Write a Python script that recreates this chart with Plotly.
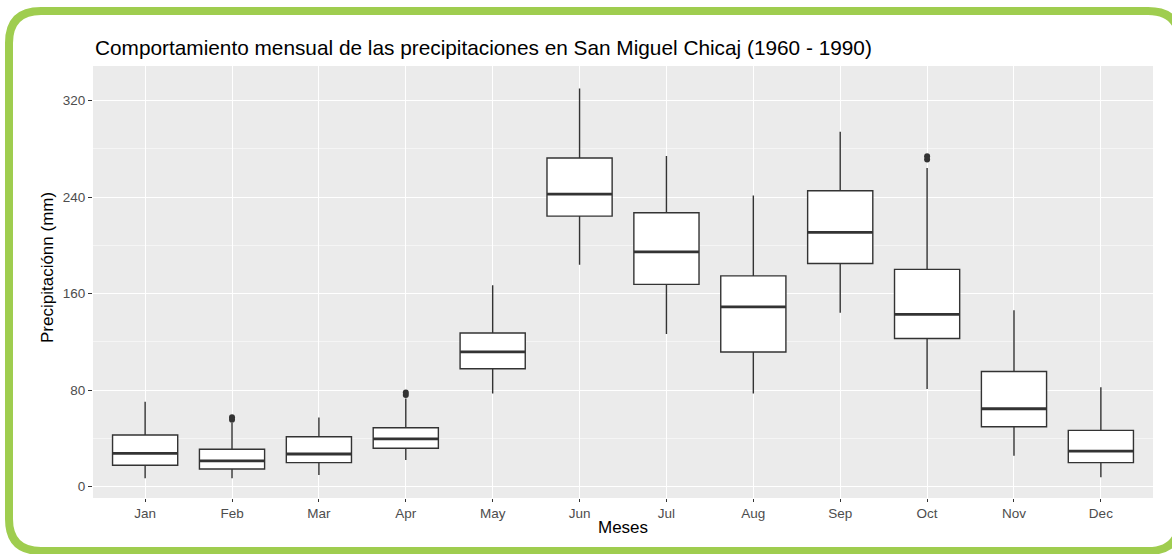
import plotly.graph_objects as go

months = ["Jan", "Feb", "Mar", "Apr", "May", "Jun", "Jul", "Aug", "Sep", "Oct", "Nov", "Dec"]
lower_whisker = [7.0, 7.0, 9.7, 22.1, 77.2, 184.0, 126.6, 77.2, 144.1, 80.9, 25.7, 7.8]
q1 = [17.7, 14.7, 19.9, 31.8, 97.8, 224.3, 167.7, 111.6, 185.0, 122.8, 49.7, 19.9]
median = [27.6, 21.3, 27.1, 39.7, 111.8, 242.5, 194.6, 149.0, 210.9, 142.9, 64.6, 29.5]
q3 = [42.8, 31.0, 41.4, 48.8, 127.4, 272.5, 227.1, 174.8, 245.3, 180.2, 95.5, 46.7]
upper_whisker = [70.4, 53.0, 57.4, 73.0, 167.0, 330.2, 274.1, 241.4, 294.2, 264.3, 146.2, 82.5]

outlier_month = ["Feb", "Feb", "Apr", "Apr", "Oct", "Oct"]
outlier_value = [55.5, 57.5, 76.0, 78.0, 271.3, 274.0]

DARK = "#333333"

fig = go.Figure()

fig.add_trace(go.Box(
    x=months,
    q1=q1, median=median, q3=q3,
    lowerfence=lower_whisker, upperfence=upper_whisker,
    width=0.75,
    fillcolor="white",
    line=dict(color=DARK, width=1.4),
    whiskerwidth=0,
    boxpoints=False,
    showlegend=False,
    hoverinfo="skip",
))

# thicker median bar (ggplot fatten)
fig.add_trace(go.Scatter(
    x=months, y=median, mode="markers",
    marker=dict(symbol="line-ew", size=46.3,
                line=dict(color=DARK, width=2.8)),
    showlegend=False, hoverinfo="skip",
))

fig.add_trace(go.Scatter(
    x=outlier_month, y=outlier_value, mode="markers",
    marker=dict(color=DARK, size=6),
    showlegend=False, hoverinfo="skip",
))

W, H = 1172, 554
L, R, T, B = 93, 19, 66, 56
pw, ph = W - L - R, H - T - B


def px_x(p):
    return (p - L) / pw


def px_y(p):
    return 1 - (p - T) / ph


# green rounded frame
x0, x1, y0, y1, rad = 9, 1180, 11, 551, 32
path = (
    f"M {px_x(x0 + rad)},{px_y(y0)} L {px_x(x1 - rad)},{px_y(y0)} "
    f"Q {px_x(x1)},{px_y(y0)} {px_x(x1)},{px_y(y0 + rad)} "
    f"L {px_x(x1)},{px_y(y1 - rad)} Q {px_x(x1)},{px_y(y1)} {px_x(x1 - rad)},{px_y(y1)} "
    f"L {px_x(x0 + rad)},{px_y(y1)} Q {px_x(x0)},{px_y(y1)} {px_x(x0)},{px_y(y1 - rad)} "
    f"L {px_x(x0)},{px_y(y0 + rad)} Q {px_x(x0)},{px_y(y0)} {px_x(x0 + rad)},{px_y(y0)} Z"
)
fig.add_shape(type="path", path=path, xref="paper", yref="paper",
              line=dict(color="#9FCD4F", width=8), fillcolor="rgba(0,0,0,0)",
              layer="above")

FONT = "Liberation Sans, Arial, sans-serif"

fig.update_layout(
    width=W, height=H,
    margin=dict(l=L, r=R, t=T, b=B),
    paper_bgcolor="white",
    plot_bgcolor="#EBEBEB",
    font=dict(family=FONT, color="#4D4D4D", size=13),
    title=dict(text="Comportamiento mensual de las precipitaciones en San Miguel Chicaj (1960 - 1990)",
               font=dict(size=20.8, color="black", family=FONT),
               x=95 / W, xanchor="left", xref="container",
               y=1 - 48 / H, yanchor="middle", yref="container"),
    showlegend=False,
    xaxis=dict(
        type="category", categoryorder="array", categoryarray=months,
        range=[-0.6, 11.6],
        showgrid=True, gridcolor="white", gridwidth=1.1,
        zeroline=False, showline=False,
        ticks="outside", ticklen=3, tickcolor=DARK, tickwidth=1,
        tickfont=dict(size=13.5, color="#4D4D4D"),
        fixedrange=True,
    ),
    yaxis=dict(
        range=[-9.4, 348.8],
        tickvals=[0, 80, 160, 240, 320],
        showgrid=True, gridcolor="white", gridwidth=1.1,
        minor=dict(tickvals=[40, 120, 200, 280], showgrid=True,
                   gridcolor="#F5F5F5", gridwidth=0.6),
        zeroline=False, showline=False,
        ticks="outside", ticklen=4, tickcolor=DARK, tickwidth=1,
        tickfont=dict(size=13.5, color="#4D4D4D"),
        fixedrange=True,
    ),
    annotations=[
        dict(text="Meses", xref="paper", yref="paper", x=0.5, y=px_y(527),
             xanchor="center", yanchor="middle", showarrow=False,
             font=dict(size=17, color="black", family=FONT)),
        dict(text="Precipitaciónn (mm)", xref="paper", yref="paper",
             x=px_x(47), y=px_y(268), textangle=-90,
             xanchor="center", yanchor="middle", showarrow=False,
             font=dict(size=17, color="black", family=FONT)),
    ],
)

fig.write_html("out.html", config={"displayModeBar": False},
               post_script="document.body.style.margin='0';")
